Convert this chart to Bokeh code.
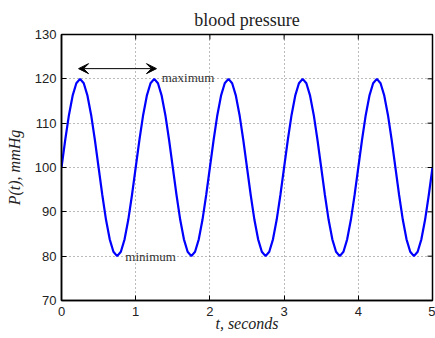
import math
from bokeh.plotting import figure
from bokeh.models import Range1d, FixedTicker, Arrow, VeeHead, Label, ColumnDataSource
from bokeh.embed import file_html
from bokeh.resources import INLINE

# time samples (seconds) and blood pressure readings (mmHg)
t = [i * 0.05 for i in range(101)]
pressure = [
    100.0, 106.2, 111.8, 116.2, 119.0, 120.0, 119.0, 116.2, 111.8, 106.2,
    100.0, 93.8, 88.2, 83.8, 81.0, 80.0, 81.0, 83.8, 88.2, 93.8,
    100.0, 106.2, 111.8, 116.2, 119.0, 120.0, 119.0, 116.2, 111.8, 106.2,
    100.0, 93.8, 88.2, 83.8, 81.0, 80.0, 81.0, 83.8, 88.2, 93.8,
    100.0, 106.2, 111.8, 116.2, 119.0, 120.0, 119.0, 116.2, 111.8, 106.2,
    100.0, 93.8, 88.2, 83.8, 81.0, 80.0, 81.0, 83.8, 88.2, 93.8,
    100.0, 106.2, 111.8, 116.2, 119.0, 120.0, 119.0, 116.2, 111.8, 106.2,
    100.0, 93.8, 88.2, 83.8, 81.0, 80.0, 81.0, 83.8, 88.2, 93.8,
    100.0, 106.2, 111.8, 116.2, 119.0, 120.0, 119.0, 116.2, 111.8, 106.2,
    100.0, 93.8, 88.2, 83.8, 81.0, 80.0, 81.0, 83.8, 88.2, 93.8,
    100.0,
]
x_ticks = [0, 1, 2, 3, 4, 5]
y_ticks = [70, 80, 90, 100, 110, 120, 130]

SERIF = "Liberation Serif"
SANS = "Liberation Sans"

p = figure(width=435, height=338, output_backend="svg", toolbar_location=None,
           x_range=Range1d(0, 5), y_range=Range1d(70, 130),
           min_border_left=61, min_border_right=3, min_border_top=34, min_border_bottom=38,
           x_axis_label="t, seconds", y_axis_label="P(t), mmHg",
           title="blood pressure")

p.title.align = "center"
p.title.text_font = SERIF
p.title.text_font_size = "18px"
p.title.text_font_style = "normal"
p.title.text_color = "#222222"

src = ColumnDataSource(dict(t=t, p=pressure))
p.line("t", "p", source=src, line_color="#0000ff", line_width=2.2)

for ax, ticks in ((p.xaxis[0], x_ticks), (p.yaxis[0], y_ticks)):
    ax.ticker = FixedTicker(ticks=ticks)
    ax.major_tick_in = 5
    ax.major_tick_out = 0
    ax.minor_tick_in = 0
    ax.minor_tick_out = 0
    ax.axis_line_width = 1.5
    ax.major_tick_line_width = 1
    ax.major_label_text_font = SANS
    ax.major_label_text_font_size = "13px"
    ax.major_label_text_color = "#222222"
    ax.axis_label_text_font = SERIF
    ax.axis_label_text_font_style = "italic"
    ax.axis_label_text_font_size = "16px"
    ax.axis_label_text_color = "#222222"

p.xaxis[0].major_label_standoff = 6
p.xaxis[0].axis_label_standoff = -4
p.yaxis[0].major_label_standoff = 5
p.yaxis[0].axis_label_standoff = 9

# inward ticks on the top and right edges of the box (clipped to the frame)
p.scatter(x=x_ticks, y=[130] * len(x_ticks), marker="dash", angle=math.pi / 2,
          size=10, line_color="black", line_width=1)
p.scatter(x=[5] * len(y_ticks), y=y_ticks, marker="dash",
          size=10, line_color="black", line_width=1)

p.xgrid.ticker = FixedTicker(ticks=x_ticks)
p.ygrid.ticker = FixedTicker(ticks=y_ticks)
for g in (p.xgrid[0], p.ygrid[0]):
    g.grid_line_color = "#555555"
    g.grid_line_dash = "1 3"
    g.grid_line_width = 1
    g.grid_line_alpha = 0.8

p.outline_line_color = "black"
p.outline_line_width = 1.5

arrow = Arrow(x_start=0.23, y_start=122.3, x_end=1.28, y_end=122.3,
              line_color="black", line_width=1,
              start=VeeHead(size=10, fill_color="black", line_color="black"),
              end=VeeHead(size=10, fill_color="black", line_color="black"))
p.add_layout(arrow)

p.add_layout(Label(x=1.35, y=120.3, text="maximum", text_font=SERIF,
                   text_font_size="13px", text_color="#333333", text_baseline="middle"))
p.add_layout(Label(x=0.86, y=80.0, text="minimum", text_font=SERIF,
                   text_font_size="13px", text_color="#333333", text_baseline="middle"))

p.background_fill_color = "white"
p.border_fill_color = "white"

open("out.html", "w").write(file_html(p, INLINE))
